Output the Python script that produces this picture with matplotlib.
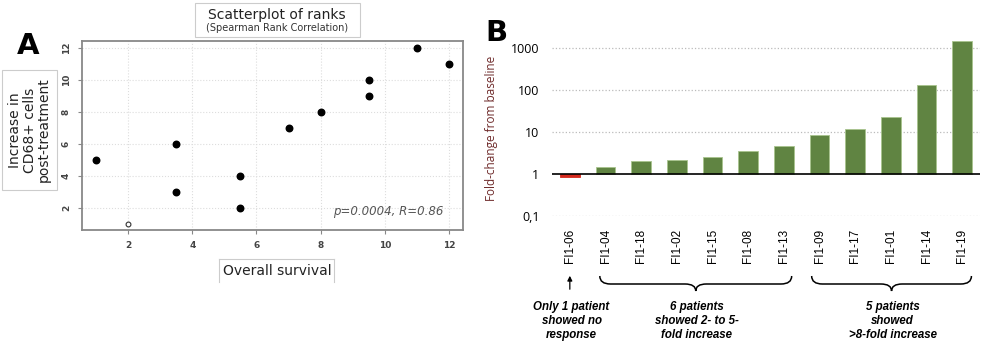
import matplotlib
matplotlib.use("Agg")
import matplotlib.pyplot as plt
import matplotlib.transforms as mtransforms
from matplotlib.path import Path
from matplotlib.patches import PathPatch, Rectangle
from matplotlib.lines import Line2D

# ---------------- data ----------------
# Panel A: ranks
surv_rank = [1, 3.5, 3.5, 5.5, 5.5, 7, 8, 9.5, 9.5, 11, 12]
cd68_rank = [5, 6, 3, 4, 2, 7, 8, 10, 9, 12, 11]
open_x = [2]
open_y = [1]
a_ticks = [2, 4, 6, 8, 10, 12]

# Panel B: fold change
patients = ["FI1-06", "FI1-04", "FI1-18", "FI1-02", "FI1-15", "FI1-08", "FI1-13",
            "FI1-09", "FI1-17", "FI1-01", "FI1-14", "FI1-19"]
fold_change = [0.83, 1.44, 2.08, 2.1, 2.5, 3.5, 4.5, 8.6, 12, 22.7, 129, 1440]
b_yticks = [0.1, 1, 10, 100, 1000]
b_yticklabels = ["0,1", "1", "10", "100", "1000"]

W, H = 988, 342
fig = plt.figure(figsize=(W / 100, H / 100), dpi=100)

def fx(px):
    return px / W

def fy(py):
    return 1 - py / H

# ---------------- Panel A ----------------
axA = fig.add_axes([fx(82), fy(230), fx(463) - fx(82), fy(41) - fy(230)])
axA.scatter(surv_rank, cd68_rank, s=22, color="black", zorder=3)
axA.scatter(open_x, open_y, s=12, facecolors="white", edgecolors="#333333",
            linewidths=0.8, zorder=3)
axA.set_xlim(0.56, 12.44)
axA.set_ylim(0.63, 12.42)
axA.set_xticks(a_ticks)
axA.set_yticks(a_ticks)
axA.set_xticklabels([str(t) for t in a_ticks], fontsize=6.5, color="#444444",
                    fontweight="bold")
axA.set_yticklabels([str(t) for t in a_ticks], fontsize=6.5, color="#444444",
                    fontweight="bold", rotation=90, va="center")
axA.grid(True, color="#dddddd", linestyle=":", linewidth=0.8)
axA.set_axisbelow(True)
for s in axA.spines.values():
    s.set_color("#888888")
    s.set_linewidth(1.3)
axA.tick_params(length=3, color="#888888", pad=5)
axA.text(8.38, 1.8, "p=0.0004, R=0.86", fontsize=8.5, style="italic",
         color="#555555", va="center", ha="left")

# title box
fig.add_artist(Rectangle((fx(195), fy(37)), fx(360) - fx(195), fy(3) - fy(37),
                         transform=fig.transFigure, fill=False,
                         edgecolor="#cccccc", linewidth=0.8))
fig.text(fx(277), fy(15), "Scatterplot of ranks", fontsize=10, ha="center",
         va="center", color="#222222")
fig.text(fx(277), fy(28), "(Spearman Rank Correlation)", fontsize=7, ha="center",
         va="center", color="#333333")

# y label box
fig.add_artist(Rectangle((fx(2), fy(190)), fx(57) - fx(2), fy(70) - fy(190),
                         transform=fig.transFigure, fill=False,
                         edgecolor="#cccccc", linewidth=0.8))
fig.text(fx(29.5), fy(130), "Increase in\nCD68+ cells\npost-treatment",
         fontsize=10, rotation=90, ha="center", va="center", color="#222222",
         linespacing=1.05)

# x label box (three sides)
for (x0, y0, x1, y1) in [(219, 282, 219, 259), (219, 259, 334, 259),
                         (334, 259, 334, 282)]:
    fig.add_artist(Line2D([fx(x0), fx(x1)], [fy(y0), fy(y1)],
                          transform=fig.transFigure, color="#cccccc",
                          linewidth=0.8))
fig.text(fx(277), fy(271), "Overall survival", fontsize=10, ha="center",
         va="center", color="#222222")

fig.text(fx(28), fy(46), "A", fontsize=21, fontweight="bold", ha="center",
         va="center")

# ---------------- Panel B ----------------
axB = fig.add_axes([fx(552), fy(216), fx(980) - fx(552), fy(40.3) - fy(216)])
axB.set_yscale("log")
axB.set_ylim(0.1, 1500)
axB.set_xlim(-0.5, 11.5)
colors = ["#d42a1e" if v < 1 else "#608442" for v in fold_change]
edges = ["#d42a1e" if v < 1 else "#a8c48e" for v in fold_change]
xs = list(range(len(patients)))
bottoms = [min(v, 1) for v in fold_change]
heights = [abs(v - 1) for v in fold_change]
axB.bar(xs, heights, bottom=bottoms, width=0.56, color=colors,
        edgecolor=edges, linewidth=0.6, zorder=3)
for t in [0.1, 10, 100, 1000]:
    axB.axhline(t, color="#bbbbbb", linestyle=":", linewidth=0.9, zorder=1)
axB.axhline(1, color="black", linewidth=1.2, zorder=4)
axB.set_yticks(b_yticks)
axB.set_yticklabels(b_yticklabels, fontsize=9, fontfamily="Open Sans")
axB.yaxis.set_minor_locator(matplotlib.ticker.NullLocator())
axB.set_xticks(xs)
axB.set_xticklabels(patients, rotation=90, fontsize=8.5,
                    fontfamily="Liberation Sans", va="top")
axB.tick_params(length=0)
axB.tick_params(axis="x", pad=9)
axB.tick_params(axis="y", pad=9)
for s in axB.spines.values():
    s.set_visible(False)
fig.text(fx(491), fy(128), "Fold-change from baseline", rotation=90,
         fontsize=8.5, color="#6e2a2a", ha="center", va="center",
         fontfamily="Open Sans")

fig.text(fx(496), fy(33), "B", fontsize=21, fontweight="bold", ha="center",
         va="center")

# brackets and annotations
trans = mtransforms.blended_transform_factory(axB.transData, fig.transFigure)

def brace(x0, x1, d=0.3):
    yA, yB, yC = fy(276), fy(284), fy(291)
    xm = (x0 + x1) / 2
    verts = [(x0, yA), (x0, yB), (x0 + d, yB),
             (xm - d, yB),
             (xm, yB), (xm, yC),
             (xm, yB), (xm + d, yB),
             (x1 - d, yB),
             (x1, yB), (x1, yA)]
    codes = [Path.MOVETO, Path.CURVE3, Path.CURVE3,
             Path.LINETO,
             Path.CURVE3, Path.CURVE3,
             Path.CURVE3, Path.CURVE3,
             Path.LINETO,
             Path.CURVE3, Path.CURVE3]
    p = PathPatch(Path(verts, codes), transform=trans, fill=False,
                  edgecolor="black", linewidth=1.1, clip_on=False)
    fig.add_artist(p)

brace(0.84, 6.22)
brace(6.78, 11.26)

fig.add_artist(matplotlib.patches.FancyArrowPatch(
    (0, fy(292)), (0, fy(273)), transform=trans, arrowstyle="-|>",
    mutation_scale=7, color="black", linewidth=0.9))

txt_kw = dict(fontsize=8.3, fontweight="bold", style="italic", ha="center",
              va="center", fontfamily="Liberation Sans", linespacing=1.25,
              transform=trans)
fig.text(0.05, fy(321), "Only 1 patient\nshowed no\nresponse", **txt_kw)
fig.text(3.55, fy(321), "6 patients\nshowed 2- to 5-\nfold increase", **txt_kw)
fig.text(9.05, fy(321), "5 patients\nshowed\n>8-fold increase", **txt_kw)

fig.savefig("out.png", dpi=100)
